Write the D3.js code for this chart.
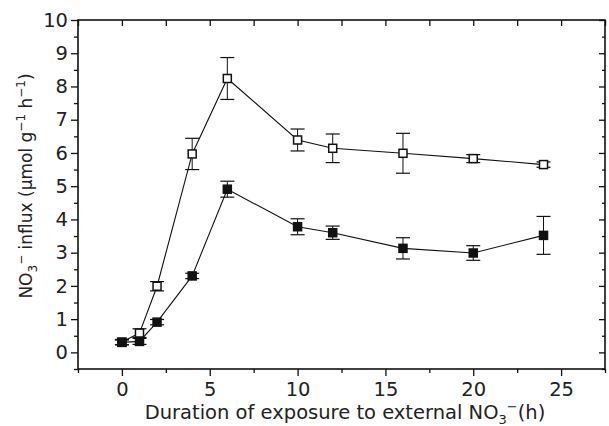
<!DOCTYPE html>
<html lang="en">
<head>
<meta charset="utf-8">
<title>NO3 influx</title>
<script src="https://cdn.jsdelivr.net/npm/d3@7"></script>
<style>
  body { margin: 0; background: #fff; }
  text { font-family: "DejaVu Sans", "Liberation Sans", sans-serif; fill: #222; }
</style>
</head>
<body>
<script>
var width = 609, height = 426

// hours of exposure
var hours = [0, 1, 2, 4, 6, 10, 12, 16, 20, 24]
// open squares
var openMean = [0.31, 0.58, 1.99, 5.97, 8.24, 6.39, 6.14, 5.99, 5.83, 5.65]
var openErr  = [0.08, 0.13, 0.14, 0.47, 0.63, 0.33, 0.43, 0.60, 0.12, 0.08]
// filled squares
var fillMean = [0.30, 0.33, 0.91, 2.30, 4.91, 3.78, 3.60, 3.13, 2.99, 3.52]
var fillErr  = [0.07, 0.09, 0.08, 0.08, 0.24, 0.24, 0.20, 0.32, 0.22, 0.57]

var xTicks = [0, 5, 10, 15, 20, 25]
var yTicks = [0, 1, 2, 3, 4, 5, 6, 7, 8, 9, 10]

var margin = {left: 78, top: 20, right: 4, bottom: 57}
var svg = d3.select("body").append("svg").attr("width", width).attr("height", height)

var x = d3.scaleLinear().domain([-2.5, 27.5]).range([margin.left, width - margin.right])
var y = d3.scaleLinear().domain([-0.5, 10]).range([height - margin.bottom, margin.top])

var minorX = d3.range(-2.5, 27.6, 2.5).filter(function(d) { return d % 5 != 0 })
var minorY = d3.range(-0.5, 10, 1)

function styleAxis(g) {
  g.select(".domain").remove()
  g.selectAll("line").attr("stroke", "#111").attr("stroke-width", 1.3)
  g.selectAll("text").attr("font-size", 19.5).attr("font-family", null).style("fill", "#222")
}

// bottom axis
svg.append("g").attr("transform", "translate(0," + y.range()[0] + ")")
  .call(d3.axisBottom(x).tickValues(xTicks).tickSize(7).tickPadding(6).tickFormat(d3.format("d")))
  .call(styleAxis)
svg.append("g").attr("transform", "translate(0," + y.range()[0] + ")")
  .call(d3.axisBottom(x).tickValues(minorX).tickSize(4).tickFormat(""))
  .call(styleAxis)
// top axis (inward)
svg.append("g").attr("transform", "translate(0," + margin.top + ")")
  .call(d3.axisBottom(x).tickValues(xTicks.concat(minorX)).tickSize(6).tickFormat(""))
  .call(styleAxis)
// left axis
svg.append("g").attr("transform", "translate(" + margin.left + ",0)")
  .call(d3.axisLeft(y).tickValues(yTicks).tickSize(7).tickPadding(3).tickFormat(d3.format("d")))
  .call(styleAxis)
svg.append("g").attr("transform", "translate(" + margin.left + ",0)")
  .call(d3.axisLeft(y).tickValues(minorY).tickSize(4).tickFormat(""))
  .call(styleAxis)
// right axis (inward)
svg.append("g").attr("transform", "translate(" + x.range()[1] + ",0)")
  .call(d3.axisRight(y).tickValues(yTicks).tickSize(-6).tickFormat(""))
  .call(styleAxis)
svg.append("g").attr("transform", "translate(" + x.range()[1] + ",0)")
  .call(d3.axisRight(y).tickValues(minorY).tickSize(-3).tickFormat(""))
  .call(styleAxis)

// frame
svg.append("rect")
  .attr("x", x.range()[0]).attr("y", y.range()[1])
  .attr("width", x.range()[1] - x.range()[0]).attr("height", y.range()[0] - y.range()[1])
  .attr("fill", "none").attr("stroke", "#111").attr("stroke-width", 1.6)

function drawSeries(mean, err, fill) {
  var pts = hours.map(function(h, i) { return {x: h, m: mean[i], e: err[i]} })
  var line = d3.line().x(function(d) { return x(d.x) }).y(function(d) { return y(d.m) })
  svg.append("path").datum(pts).attr("d", line)
    .attr("fill", "none").attr("stroke", "#111").attr("stroke-width", 1.1)

  var eb = svg.append("g").selectAll("g").data(pts).enter().append("g")
  eb.append("line")
    .attr("x1", function(d) { return x(d.x) }).attr("x2", function(d) { return x(d.x) })
    .attr("y1", function(d) { return y(d.m - d.e) }).attr("y2", function(d) { return y(d.m + d.e) })
    .attr("stroke", "#111").attr("stroke-width", 1)
  eb.selectAll(".cap").data(function(d) { return [d.m - d.e, d.m + d.e].map(function(v) { return {x: d.x, v: v} }) })
    .enter().append("line").attr("class", "cap")
    .attr("x1", function(d) { return x(d.x) - 7 }).attr("x2", function(d) { return x(d.x) + 7 })
    .attr("y1", function(d) { return y(d.v) }).attr("y2", function(d) { return y(d.v) })
    .attr("stroke", "#111").attr("stroke-width", 1.2)

  svg.append("g").selectAll("rect").data(pts).enter().append("rect")
    .attr("x", function(d) { return x(d.x) - 4 }).attr("y", function(d) { return y(d.m) - 4 })
    .attr("width", 8).attr("height", 8)
    .attr("fill", fill).attr("stroke", "#111").attr("stroke-width", 1.5)
}

drawSeries(openMean, openErr, "#fff")
drawSeries(fillMean, fillErr, "#111")

// axis titles
var xt = svg.append("text").attr("x", 345).attr("y", 419)
  .attr("text-anchor", "middle").attr("font-size", 19.5)
xt.append("tspan").text("Duration of exposure to external NO")
xt.append("tspan").attr("dy", 5).attr("font-size", 13).text("3")
xt.append("tspan").attr("dy", -13).attr("font-size", 13).text("\u2212")
xt.append("tspan").attr("dy", 8).text("(h)")

var yt = svg.append("text").attr("transform", "translate(32,186) rotate(-90)")
  .attr("text-anchor", "middle").attr("font-size", 17)
yt.append("tspan").text("NO")
yt.append("tspan").attr("dy", 5).attr("font-size", 12).text("3")
yt.append("tspan").attr("dy", -12).attr("font-size", 12).text("\u2212")
yt.append("tspan").attr("dy", 7).text(" influx (\u03bcmol g")
yt.append("tspan").attr("dy", -7).attr("font-size", 12).text("\u22121")
yt.append("tspan").attr("dy", 7).text(" h")
yt.append("tspan").attr("dy", -7).attr("font-size", 12).text("\u22121")
yt.append("tspan").attr("dy", 7).text(")")
</script>
</body>
</html>
